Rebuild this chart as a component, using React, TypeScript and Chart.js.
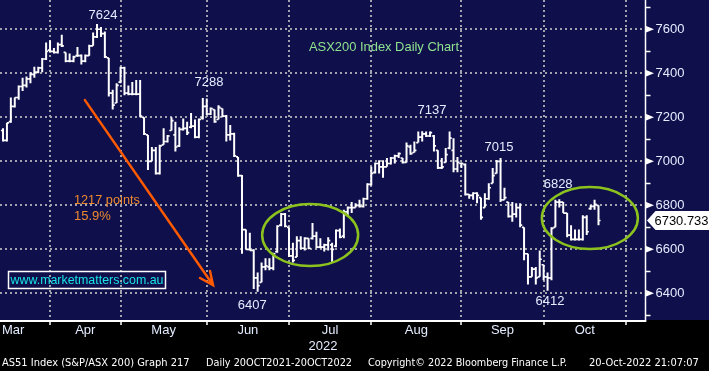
import React, { useEffect, useRef } from 'react';
import { Chart, registerables } from 'chart.js';

Chart.register(...registerables);

// ---------------- data (daily bars, 15-Mar-2022 .. 20-Oct-2022) ----------------
const OPEN = [
  7140, 7095, 7180, 7250, 7290, 7340, 7345, 7375, 7395, 7405,
  7425, 7465, 7505, 7500, 7495, 7530, 7495, 7455, 7455, 7480,
  7480, 7455, 7480, 7525, 7565, 7600, 7580, 7470, 7310, 7265,
  7360, 7425, 7310, 7305, 7305, 7305, 7200, 7120, 7000, 7050,
  6945, 7075, 7090, 7140, 7120, 7070, 7145, 7150, 7155, 7160,
  7110, 7195, 7250, 7215, 7235, 7190, 7240, 7205, 7120, 7125,
  7020, 6935, 6690, 6600, 6595, 6470, 6450, 6520, 6520, 6515,
  6590, 6710, 6760, 6700, 6570, 6565, 6640, 6605, 6650, 6650,
  6660, 6610, 6610, 6620, 6620, 6615, 6685, 6660, 6770, 6790,
  6790, 6800, 6795, 6830, 6895, 6950, 6990, 6975, 6975, 6990,
  7015, 7025, 7015, 6995, 7065, 7040, 7085, 7110, 7125, 7115,
  7115, 7050, 6970, 6995, 7060, 7050, 6965, 6990, 6985, 6850,
  6845, 6855, 6835, 6790, 6830, 6900, 6945, 7000, 6825, 6815,
  6750, 6760, 6790, 6700, 6580, 6475, 6510, 6475, 6530, 6475,
  6470, 6700, 6815, 6815, 6765, 6665, 6645, 6645, 6645, 6745,
  6785, 6795, 6800,
];
const HIGH = [
  7150, 7175, 7290, 7290, 7345, 7380, 7385, 7405, 7430, 7430,
  7470, 7540, 7550, 7515, 7540, 7575, 7495, 7490, 7480, 7520,
  7485, 7485, 7530, 7585, 7624, 7610, 7590, 7470, 7325, 7355,
  7430, 7430, 7345, 7360, 7370, 7370, 7200, 7120, 7065, 7065,
  7075, 7150, 7120, 7200, 7180, 7155, 7195, 7180, 7220, 7190,
  7195, 7288, 7285, 7245, 7235, 7255, 7240, 7210, 7165, 7130,
  7020, 6938, 6690, 6675, 6600, 6495, 6540, 6560, 6560, 6585,
  6710, 6765, 6765, 6700, 6630, 6660, 6660, 6655, 6650, 6720,
  6680, 6650, 6625, 6655, 6630, 6690, 6695, 6780, 6795, 6815,
  6810, 6825, 6835, 6900, 6975, 6995, 7005, 7005, 7015, 7020,
  7030, 7040, 7015, 7085, 7075, 7090, 7135, 7137, 7135, 7135,
  7120, 7050, 7015, 7060, 7135, 7105, 7020, 6995, 6990, 6850,
  6860, 6860, 6835, 6855, 6900, 6970, 7006, 7015, 6880, 6815,
  6815, 6810, 6810, 6700, 6580, 6520, 6520, 6595, 6530, 6495,
  6700, 6825, 6828, 6815, 6765, 6710, 6690, 6690, 6755, 6755,
  6800, 6825, 6800,
];
const LOW = [
  7090, 7090, 7175, 7245, 7280, 7320, 7335, 7355, 7380, 7400,
  7405, 7460, 7495, 7490, 7490, 7520, 7450, 7450, 7450, 7475,
  7440, 7450, 7480, 7525, 7560, 7565, 7470, 7295, 7235, 7265,
  7355, 7300, 7300, 7300, 7300, 7200, 7120, 6960, 7000, 6940,
  6940, 7075, 7085, 7140, 7045, 7065, 7140, 7120, 7150, 7105,
  7105, 7190, 7210, 7210, 7175, 7190, 7200, 7090, 7095, 7020,
  6930, 6580, 6600, 6595, 6420, 6407, 6450, 6505, 6505, 6505,
  6585, 6705, 6700, 6565, 6540, 6565, 6600, 6595, 6600, 6645,
  6605, 6605, 6590, 6595, 6540, 6610, 6650, 6650, 6755, 6765,
  6790, 6790, 6790, 6825, 6890, 6945, 6945, 6925, 6975, 6985,
  6990, 7015, 6990, 6995, 7030, 7040, 7085, 7090, 7110, 7110,
  7045, 6965, 6965, 6995, 7055, 6950, 6950, 6970, 6845, 6830,
  6825, 6810, 6735, 6790, 6825, 6900, 6945, 6815, 6825, 6745,
  6725, 6745, 6700, 6550, 6440, 6475, 6440, 6475, 6460, 6412,
  6460, 6700, 6790, 6765, 6655, 6640, 6640, 6640, 6640, 6665,
  6780, 6780, 6710,
];
const CLOSE = [
  7095, 7175, 7250, 7290, 7340, 7345, 7375, 7395, 7405, 7425,
  7465, 7500, 7500, 7495, 7530, 7525, 7455, 7455, 7475, 7480,
  7455, 7480, 7525, 7565, 7600, 7580, 7475, 7310, 7255, 7345,
  7425, 7310, 7305, 7305, 7305, 7205, 7125, 7000, 7050, 6945,
  7070, 7090, 7115, 7185, 7065, 7145, 7150, 7130, 7160, 7110,
  7190, 7250, 7215, 7240, 7180, 7245, 7205, 7120, 7125, 7025,
  6935, 6690, 6600, 6595, 6470, 6435, 6520, 6525, 6515, 6580,
  6705, 6760, 6705, 6570, 6550, 6640, 6605, 6650, 6605, 6660,
  6610, 6610, 6620, 6640, 6600, 6685, 6655, 6770, 6790, 6790,
  6800, 6795, 6830, 6895, 6945, 6990, 6975, 6975, 6990, 7015,
  7025, 7035, 6995, 7070, 7035, 7050, 7110, 7125, 7115, 7130,
  7070, 6970, 6975, 7030, 7105, 6965, 6995, 6990, 6850, 6845,
  6855, 6845, 6745, 6830, 6880, 6935, 7000, 6825, 6835, 6750,
  6760, 6790, 6710, 6580, 6475, 6510, 6470, 6555, 6475, 6470,
  6695, 6815, 6815, 6765, 6665, 6645, 6645, 6645, 6745, 6680,
  6795, 6805, 6731,
];
const LAST_PRICE = 6730.733;

const MONTHS = ['Mar', 'Apr', 'May', 'Jun', 'Jul', 'Aug', 'Sep', 'Oct'];
// bar index at which each month boundary falls (Mar, Apr, ..., Nov)
const MONTH_STARTS = [-11, 12, 30, 52, 73, 94, 117, 138, 159];
const YEAR_LABEL = '2022';
const Y_TICKS = [6400, 6600, 6800, 7000, 7200, 7400, 7600];
const Y_MINOR = [6300, 6500, 6700, 6900, 7100, 7300, 7500, 7700];

const PEAK_NOTES: [string, number, number][] = [
  ['7624', 25.5, 7665],
  ['7288', 52.6, 7360],
  ['7137', 109.5, 7229],
  ['7015', 126.6, 7065],
  ['6828', 141.7, 6897],
  ['6407', 63.6, 6347],
  ['6412', 139.6, 6365],
];
const FOOTER: [string, number, number][] = [
  ['AS51 Index (S&P/ASX 200) Graph 217', 2, 198],
  ['Daily 20OCT2021-20OCT2022', 206, 146],
  ['Copyright\u00A9 2022 Bloomberg Finance L.P.', 368, 199],
  ['20-Oct-2022 21:07:07', 589, 117],
];

// ---------------- styling ----------------
const NAVY = '#0f0f4b';
const GRID = '#a2a2ac';
const LABEL = '#e4ecff';
const FONT = '"Liberation Sans", Arial, Helvetica, sans-serif';
const X_MIN = -0.77;
const X_MAX = 164.0;
const Y_MIN = 6279;
const Y_MAX = 7733;

export default function App() {
  const ref = useRef<HTMLCanvasElement>(null);

  useEffect(() => {
    const canvas = ref.current!;

    const overlay = {
      id: 'overlay',
      beforeDraw(chart: any) {
        const { ctx, chartArea: ca, width, height } = chart;
        const xs = chart.scales.x;
        const ys = chart.scales.y;
        ctx.save();
        ctx.fillStyle = '#000000';
        ctx.fillRect(0, 0, width, height);
        ctx.fillStyle = NAVY;
        ctx.fillRect(0, 0, width, ca.bottom);
        // dotted grid
        ctx.strokeStyle = GRID;
        ctx.lineWidth = 2;
        ctx.setLineDash([2, 3]);
        for (const v of Y_TICKS) {
          const y = Math.round(ys.getPixelForValue(v));
          ctx.beginPath();
          ctx.moveTo(ca.left, y);
          ctx.lineTo(ca.right, y);
          ctx.stroke();
        }
        for (const m of MONTH_STARTS) {
          if (m <= xs.min || m >= xs.max) continue;
          const x = Math.round(xs.getPixelForValue(m));
          ctx.beginPath();
          ctx.moveTo(x, ca.top);
          ctx.lineTo(x, ca.bottom);
          ctx.stroke();
        }
        ctx.restore();
      },
      afterDatasetsDraw(chart: any) {
        const { ctx, chartArea: ca } = chart;
        const xs = chart.scales.x;
        const ys = chart.scales.y;
        const X = (v: number) => xs.getPixelForValue(v);
        const Y = (v: number) => ys.getPixelForValue(v);

        // open / close ticks
        ctx.save();
        ctx.beginPath();
        ctx.rect(ca.left, ca.top, ca.right - ca.left, ca.bottom - ca.top);
        ctx.clip();
        ctx.strokeStyle = '#ffffff';
        ctx.lineWidth = 1.7;
        for (let i = 0; i < OPEN.length; i++) {
          const x = X(i);
          const yo = Y(OPEN[i]);
          const yc = Y(CLOSE[i]);
          ctx.beginPath();
          ctx.moveTo(x - 2.1, yo);
          ctx.lineTo(x, yo);
          ctx.moveTo(x, yc);
          ctx.lineTo(x + 2.1, yc);
          ctx.stroke();
        }
        ctx.restore();

        ctx.save();
        // axes lines
        ctx.strokeStyle = '#ffffff';
        ctx.lineWidth = 1.5;
        ctx.beginPath();
        ctx.moveTo(ca.right, ca.top);
        ctx.lineTo(ca.right, ca.bottom + 1);
        ctx.stroke();
        ctx.lineWidth = 2;
        ctx.beginPath();
        ctx.moveTo(ca.left, ca.bottom + 1);
        ctx.lineTo(ca.right + 0.75, ca.bottom + 1);
        ctx.stroke();
        // minor y ticks
        ctx.lineWidth = 1.5;
        for (const v of Y_MINOR) {
          const y = Math.round(Y(v)) + 0.5;
          ctx.beginPath();
          ctx.moveTo(ca.right, y);
          ctx.lineTo(ca.right + 5, y);
          ctx.stroke();
        }
        // major y ticks: triangles
        ctx.fillStyle = '#ffffff';
        for (const v of Y_TICKS) {
          const y = Y(v);
          ctx.beginPath();
          ctx.moveTo(ca.right, y - 3.5);
          ctx.lineTo(ca.right + 8.5, y);
          ctx.lineTo(ca.right, y + 3.5);
          ctx.closePath();
          ctx.fill();
        }
        // month ticks
        ctx.lineWidth = 1.5;
        for (const m of MONTH_STARTS) {
          if (m <= xs.min || m >= xs.max) continue;
          const x = Math.round(X(m));
          ctx.beginPath();
          ctx.moveTo(x, ca.bottom);
          ctx.lineTo(x, ca.bottom + 5);
          ctx.stroke();
        }

        const text = (s: string, x: number, y: number, color: string, align: CanvasTextAlign = 'center', size = 13, maxW?: number) => {
          ctx.font = `${size}px ${FONT}`;
          ctx.fillStyle = color;
          ctx.textAlign = align;
          ctx.textBaseline = 'middle';
          if (maxW) ctx.fillText(s, x, y, maxW);
          else ctx.fillText(s, x, y);
        };

        // month labels
        ctx.font = `13px ${FONT}`;
        for (let k = 0; k < MONTHS.length; k++) {
          let cx = X((MONTH_STARTS[k] + MONTH_STARTS[k + 1]) / 2);
          const w = ctx.measureText(MONTHS[k]).width;
          cx = Math.max(cx, ca.left + 2 + w / 2);
          text(MONTHS[k], cx, ca.bottom + 10, LABEL);
        }
        text(YEAR_LABEL, X(81.7), ca.bottom + 26, LABEL);

        // footer
        for (const [s, x, w] of FOOTER) {
          ctx.font = `11px "DejaVu Sans Condensed", "DejaVu Sans", sans-serif`;
          ctx.fillStyle = '#ffffff';
          ctx.textAlign = 'left';
          ctx.textBaseline = 'middle';
          ctx.fillText(s, x, 363, w);
        }

        // peak / trough labels
        for (const [s, i, v] of PEAK_NOTES) text(s, X(i), Y(v), LABEL);

        // title
        text('ASX200 Index Daily Chart', X(78.1), Y(7519), '#8fe38f', 'left', 13, 150);

        // fall annotation
        text('1217 points', X(18.1), Y(6822), '#ee8a2c', 'left', 13, 66);
        text('15.9%', X(18.1), Y(6749), '#ee8a2c', 'left', 13);

        // arrow
        const ax0 = X(20.9), ay0 = Y(7278), ax1 = X(53.6), ay1 = Y(6438);
        ctx.strokeStyle = '#ff5a00';
        ctx.lineWidth = 2.5;
        ctx.lineCap = 'round';
        ctx.beginPath();
        ctx.moveTo(ax0, ay0);
        ctx.lineTo(ax1, ay1);
        ctx.moveTo(ax1 - 13, ay1 - 7);
        ctx.lineTo(ax1, ay1);
        ctx.lineTo(ax1 - 3, ay1 - 14);
        ctx.stroke();

        // ellipses
        ctx.strokeStyle = '#8cc21e';
        ctx.lineWidth = 2.5;
        ctx.beginPath();
        ctx.ellipse(X(78.4), Y(6665), 48, 31, 0, 0, Math.PI * 2);
        ctx.stroke();
        ctx.beginPath();
        ctx.ellipse(X(149.8), Y(6742), 48, 31, 0, 0, Math.PI * 2);
        ctx.stroke();

        // website box
        ctx.strokeStyle = '#ffffff';
        ctx.lineWidth = 1.5;
        ctx.strokeRect(8.5, 271.5, 157, 17);
        text('www.marketmatters.com.au', 10.5, 280.5, '#19e3e8', 'left', 13, 153);

        // last price tag
        const ly = Y(LAST_PRICE);
        ctx.fillStyle = '#ffffff';
        ctx.beginPath();
        ctx.moveTo(ca.right + 1.5, ly);
        ctx.lineTo(ca.right + 10, ly - 9.5);
        ctx.lineTo(709, ly - 9.5);
        ctx.lineTo(709, ly + 9.5);
        ctx.lineTo(ca.right + 10, ly + 9.5);
        ctx.closePath();
        ctx.fill();
        text(LAST_PRICE.toFixed(3), ca.right + 9, ly + 0.5, '#000000', 'left', 13, 54);
        ctx.restore();
      },
    };

    const chart = new Chart(canvas, {
      type: 'bar',
      data: {
        datasets: [
          {
            data: HIGH.map((h, i) => ({ x: i, y: [LOW[i], h] })) as any,
            backgroundColor: '#ffffff',
            borderWidth: 0,
            barThickness: 2,
            inflateAmount: 0,
          } as any,
        ],
      },
      options: {
        responsive: false,
        animation: false,
        events: [],
        layout: { padding: 0 },
        plugins: { legend: { display: false }, tooltip: { enabled: false } },
        scales: {
          x: {
            type: 'linear',
            min: X_MIN,
            max: X_MAX,
            offset: false,
            grid: { display: false, drawTicks: false },
            border: { display: false },
            ticks: { display: false },
            afterFit: (s: any) => {
              s.height = 51;
              s.paddingLeft = 0;
              s.paddingRight = 0;
            },
          },
          y: {
            type: 'linear',
            position: 'right',
            min: Y_MIN,
            max: Y_MAX,
            beginAtZero: false,
            grid: { display: false, drawTicks: false },
            border: { display: false },
            ticks: {
              color: LABEL,
              font: { family: FONT, size: 13 },
              padding: 10,
              autoSkip: false,
              callback: (v: any) => String(v),
            },
            afterBuildTicks: (s: any) => {
              s.ticks = Y_TICKS.map((v) => ({ value: v }));
            },
            afterFit: (s: any) => {
              s.width = 63.5;
              s.paddingTop = 0;
              s.paddingBottom = 0;
            },
          },
        },
      } as any,
      plugins: [overlay],
    });

    return () => chart.destroy();
  }, []);

  return (
    <div style={{ position: 'fixed', left: 0, top: 0, width: 709, height: 371, background: '#000' }}>
      <canvas ref={ref} width={709} height={371} style={{ display: 'block', width: 709, height: 371 }} />
    </div>
  );
}
